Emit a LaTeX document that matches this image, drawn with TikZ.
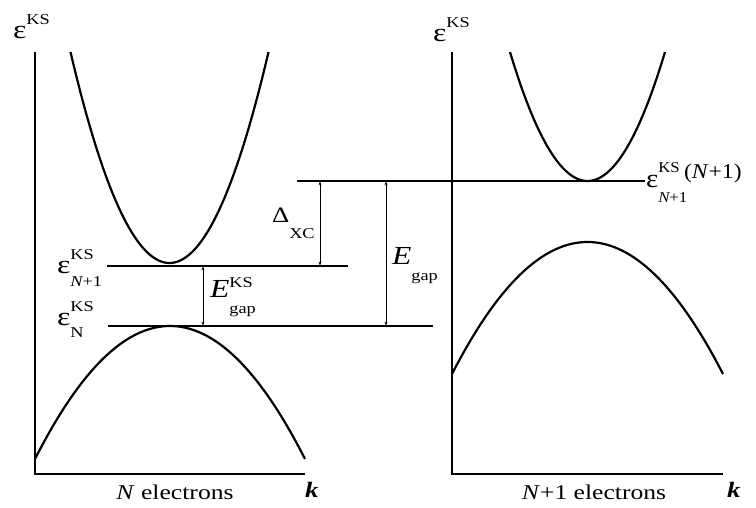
\documentclass[tikz,border=0pt]{standalone}
\usepackage{fontspec}
\setmainfont{Liberation Serif}
\usetikzlibrary{arrows.meta}
\newlength\supw
\newlength\subw
\newcommand{\MainF}{\fontsize{21}{21}\selectfont}
\newcommand{\BigF}{\fontsize{26}{26}\selectfont}
\newcommand{\ScrF}{\fontsize{15}{15}\selectfont}
\newcommand{\Eps}{{\fontsize{26}{26}\selectfont ε}}
% \SupSub{sup}{sub}{raise}{lower}
\newcommand{\SupSub}[4]{\settowidth\supw{\ScrF #1}\settowidth\subw{\ScrF #2}%
  \rlap{\raisebox{#3}{\ScrF #1}}\rlap{\raisebox{-#4}{\ScrF #2}}%
  \hspace{\ifdim\supw>\subw\supw\else\subw\fi}}
\begin{document}
\begin{tikzpicture}[x=1pt,y=-1pt,
  curve/.style={line width=2.2pt},
  axis/.style={line width=1.5pt},
  level/.style={line width=1.2pt},
  dimarr/.style={line width=0.8pt,{Stealth[length=4.5pt,width=2.8pt]}-{Stealth[length=4.5pt,width=2.8pt]}},
  lbl/.style={inner sep=0pt,outer sep=0pt,anchor=base west,xscale=1.22,transform shape,font=\MainF}]
\useasboundingbox (0,0) rectangle (756,508);

% axes
\coordinate (LyTop) at (35,52);
\coordinate (Lorig) at (35,474);
\coordinate (LxEnd) at (305,474);
\coordinate (RyTop) at (452,52);
\coordinate (Rorig) at (452,474);
\coordinate (RxEnd) at (723,474);
\draw[axis] (LyTop) -- (Lorig) -- (LxEnd);
\draw[axis] (RyTop) -- (Rorig) -- (RxEnd);

% bands
\draw[curve] plot[domain=70.5:268.5,samples=90] (\x,{263-211*((\x-169.5)/99)*((\x-169.5)/99)});
\draw[curve] plot[domain=35:305,samples=90] (\x,{326+133*((\x-170)/135)*((\x-170)/135)});
\draw[curve] plot[domain=510:665,samples=90] (\x,{181-129*((\x-587.5)/77.5)*((\x-587.5)/77.5)});
\draw[curve] plot[domain=452:723,samples=90] (\x,{242+132*((\x-587.5)/135.5)*((\x-587.5)/135.5)});

% levels
\coordinate (lA1) at (107,266); \coordinate (lA2) at (348,266);
\coordinate (lB1) at (108,326); \coordinate (lB2) at (433,326);
\coordinate (lC1) at (297,181); \coordinate (lC2) at (645,181);
\draw[level] (lA1) -- (lA2);
\draw[level] (lB1) -- (lB2);
\draw[level] (lC1) -- (lC2);

% dimension arrows
\coordinate (gksT) at (203,266); \coordinate (gksB) at (203,326);
\coordinate (xcT) at (320,181);  \coordinate (xcB) at (320,266);
\coordinate (gT) at (386,181);   \coordinate (gB) at (386,326);
\draw[dimarr] (gksT) -- (gksB);
\draw[dimarr] (xcT) -- (xcB);
\draw[dimarr] (gT) -- (gB);

% labels
\node[lbl] (epsL) at (13,39) {\Eps\SupSub{KS}{}{0.68em}{0.62em}};
\node[lbl] (epsR) at (433,42) {\Eps\SupSub{KS}{}{0.68em}{0.62em}};
\node[lbl] (epsNp1) at (57,273) {\Eps\SupSub{KS}{\itshape N\upshape+1}{0.62em}{0.66em}};
\node[lbl] (epsN) at (57,325) {\Eps\SupSub{KS}{N}{0.62em}{0.58em}};
\node[lbl,xscale=0.92] (epsNN) at (646,188) {\Eps\SupSub{KS}{\itshape N\upshape+1}{0.72em}{0.7em}\hspace{-3pt}\raisebox{0.45em}{\fontsize{21}{21}\selectfont(\textit{N}+1)}};
\node[lbl,font=\BigF] (EgKS) at (210,298) {\textit{E}\SupSub{KS}{gap}{0.42em}{0.6em}};
\node[lbl,font=\BigF] (Eg) at (392,265) {\textit{E}\SupSub{}{gap}{0.4em}{0.58em}};
\node[lbl,font=\fontsize{22}{22}\selectfont] (Dxc) at (272,223) {Δ\SupSub{}{XC}{0.4em}{0.72em}};
\node[lbl,anchor=base] (nL) at (175,499) {\textit{N} electrons};
\node[lbl,anchor=base] (nR) at (594,499) {\textit{N}+1 electrons};
\node[lbl,font=\fontsize{22}{22}\selectfont\bfseries\itshape] (kL) at (305,497) {k};
\node[lbl,font=\fontsize{22}{22}\selectfont\bfseries\itshape] (kR) at (727,497) {k};
\end{tikzpicture}
\end{document}
